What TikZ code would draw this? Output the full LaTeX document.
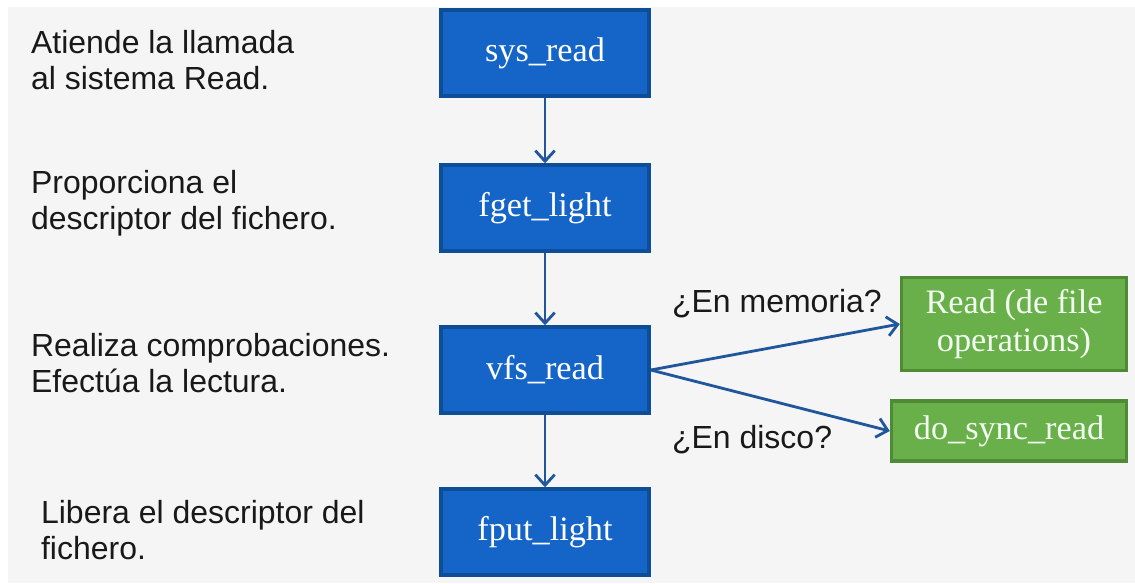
\documentclass[tikz,border=0pt]{standalone}
\usepackage{fontspec}
\setmainfont{Liberation Sans}
\newfontfamily\boxfont{Liberation Serif}
\usetikzlibrary{arrows.meta}

\definecolor{bgray}{HTML}{F5F5F5}
\definecolor{bluefill}{HTML}{1565C8}
\definecolor{blueline}{HTML}{0D4E96}
\definecolor{greenfill}{HTML}{6AB04A}
\definecolor{greenline}{HTML}{4F8A35}
\definecolor{arrowblue}{HTML}{1F569C}

\tikzset{
  callbox/.style={draw=blueline, fill=bluefill, line width=2pt, text=white,
    minimum width=4.16cm, minimum height=1.72cm, font=\boxfont\fontsize{19.5}{22}\selectfont},
  opbox/.style={draw=greenline, fill=greenfill, line width=2pt, text=white!95!green,
    align=center, font=\boxfont\fontsize{19.5}{22}\selectfont},
  note/.style={anchor=west, align=left, text=black!90, inner sep=1pt, font=\fontsize{18.2}{20.8}\selectfont},
  flow/.style={draw=arrowblue, line width=1.6pt, -{Straight Barb[length=6pt,width=11pt]}}
}

\begin{document}
\begin{tikzpicture}[x=0.02cm, y=-0.02cm]
        \useasboundingbox (0, 0) rectangle (1135, 583);
        \fill[white] (0, 0) rectangle (1135, 583);
        \fill[bgray] (8, 7) rectangle (1135, 583);

        % call chain
        \node (sys) at (545, 53)[callbox] {sys\_read};
        \node (fget) at (545, 208)[callbox] {fget\_light};
        \node (vfs) at (545, 370)[callbox] {vfs\_read};
        \node (fput) at (545, 532)[callbox] {fput\_light};

        % file operations
        \node (rdop) at (1014, 324)[opbox, minimum width=4.5cm, minimum height=1.86cm] {Read (de file\\operations)};
        \node (sync) at (1009, 431)[opbox, minimum width=4.7cm, minimum height=1.2cm] {do\_sync\_read};

        \draw[flow] (sys) -- (fget);
        \draw[flow] (fget) -- (vfs);
        \draw[flow] (vfs) -- (fput);
        \draw[flow] (vfs.east) -- (rdop.west);
        \draw[flow] (vfs.east) -- (sync.west);

        \node (mem) at (670, 304)[note] {¿En memoria?};
        \node (disk) at (670, 440)[note] {¿En disco?};

        % descriptions
        \node (d1) at (29, 60)[note] {Atiende la llamada\\al sistema Read.};
        \node (d2) at (29, 203)[note] {Proporciona el\\descriptor del fichero.};
        \node (d3) at (29, 363)[note] {Realiza comprobaciones.\\Efectúa la lectura.};
        \node (d4) at (39, 530)[note] {Libera el descriptor del\\fichero.};
    \end{tikzpicture}
\end{document}
